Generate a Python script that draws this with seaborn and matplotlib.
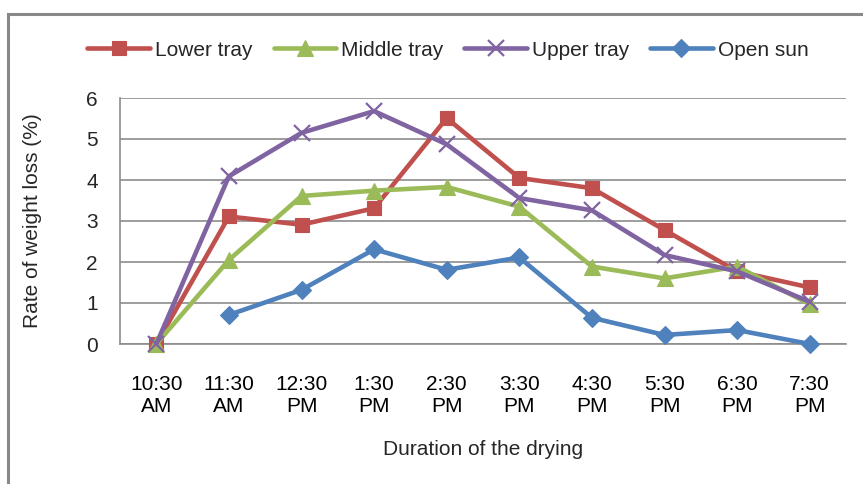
import matplotlib
matplotlib.use("Agg")
import matplotlib.pyplot as plt
import seaborn as sns
import numpy as np
import pandas as pd
from matplotlib.patches import Rectangle

categories = ["10:30\nAM", "11:30\nAM", "12:30\nPM", "1:30\nPM", "2:30\nPM",
              "3:30\nPM", "4:30\nPM", "5:30\nPM", "6:30\nPM", "7:30\nPM"]
lower_tray = [0.0, 3.11, 2.91, 3.31, 5.51, 4.05, 3.80, 2.78, 1.77, 1.38]
middle_tray = [0.0, 2.05, 3.61, 3.74, 3.83, 3.35, 1.89, 1.60, 1.89, 0.97]
upper_tray = [0.0, 4.09, 5.15, 5.68, 4.87, 3.56, 3.26, 2.17, 1.77, 1.03]
open_sun = [np.nan, 0.71, 1.32, 2.31, 1.81, 2.11, 0.64, 0.22, 0.34, 0.0]

series_names = ["Lower tray", "Middle tray", "Upper tray", "Open sun"]
series_values = [lower_tray, middle_tray, upper_tray, open_sun]
colors = ["#C0504D", "#9BBB59", "#8064A2", "#4F81BD"]
markers = ["s", "^", "x", "D"]
msizes = [10, 11, 11, 9]

sns.set_theme(style="white")
plt.rcParams["font.family"] = ["Liberation Sans", "DejaVu Sans"]
FS = 15

fig = plt.figure(figsize=(8.63, 4.84), dpi=100)
ax = fig.add_axes([120 / 863, 1 - 344 / 484, 726 / 863, 246 / 484])

x = np.arange(len(categories))
for name, vals, c, m, ms in zip(series_names, series_values, colors, markers, msizes):
    df = pd.DataFrame({"x": x, "y": vals})
    sns.lineplot(data=df, x="x", y="y", ax=ax, color=c, linewidth=3.3,
                 marker=m, markersize=ms, markeredgecolor=c,
                 markeredgewidth=1.6 if m == "x" else 0.8,
                 label=name, clip_on=False, zorder=3)

gray = "#8C8C8C"
ax.set_xlim(-0.5, len(categories) - 0.5)
ax.set_ylim(0, 6)
ax.set_yticks(range(0, 7))
ax.set_xticks(x)
ax.set_xticklabels(categories, fontsize=FS, linespacing=1.25)
ax.set_xticks(np.arange(-0.5, len(categories), 1.0), minor=True)
ax.tick_params(axis="x", which="major", length=0, pad=22, colors="black")
ax.tick_params(axis="x", which="minor", length=5, width=1.2, color=gray, direction="out")
ax.tick_params(axis="y", which="major", length=5, width=1.2, color=gray, direction="out",
               labelsize=FS, pad=11)
ax.yaxis.grid(True, color=gray, linewidth=1.2)
ax.xaxis.grid(False)
ax.set_axisbelow(True)
for s in ["top", "right"]:
    ax.spines[s].set_visible(False)
for s in ["left", "bottom"]:
    ax.spines[s].set_color(gray)
    ax.spines[s].set_linewidth(1.2)

ax.set_xlabel("Duration of the drying", fontsize=FS)
ax.set_ylabel("Rate of weight loss (%)", fontsize=FS)
ax.xaxis.set_label_coords(0.5, -0.39)
ax.yaxis.set_label_coords(-0.108, 0.5)

handles, labels = ax.get_legend_handles_labels()
ax.get_legend().remove()
fig.legend(handles, labels, loc="center", bbox_to_anchor=(448 / 863, 1 - 50 / 484),
           ncol=4, frameon=False, fontsize=FS, handlelength=3.0, handletextpad=0.25,
           columnspacing=1.0)

fig.patches.append(Rectangle((8 / 863, -0.1), 1.2, 1.1 - 14 / 484,
                             transform=fig.transFigure, fill=False,
                             edgecolor="#888888", linewidth=2.2))

fig.savefig("out.png", dpi=100)
